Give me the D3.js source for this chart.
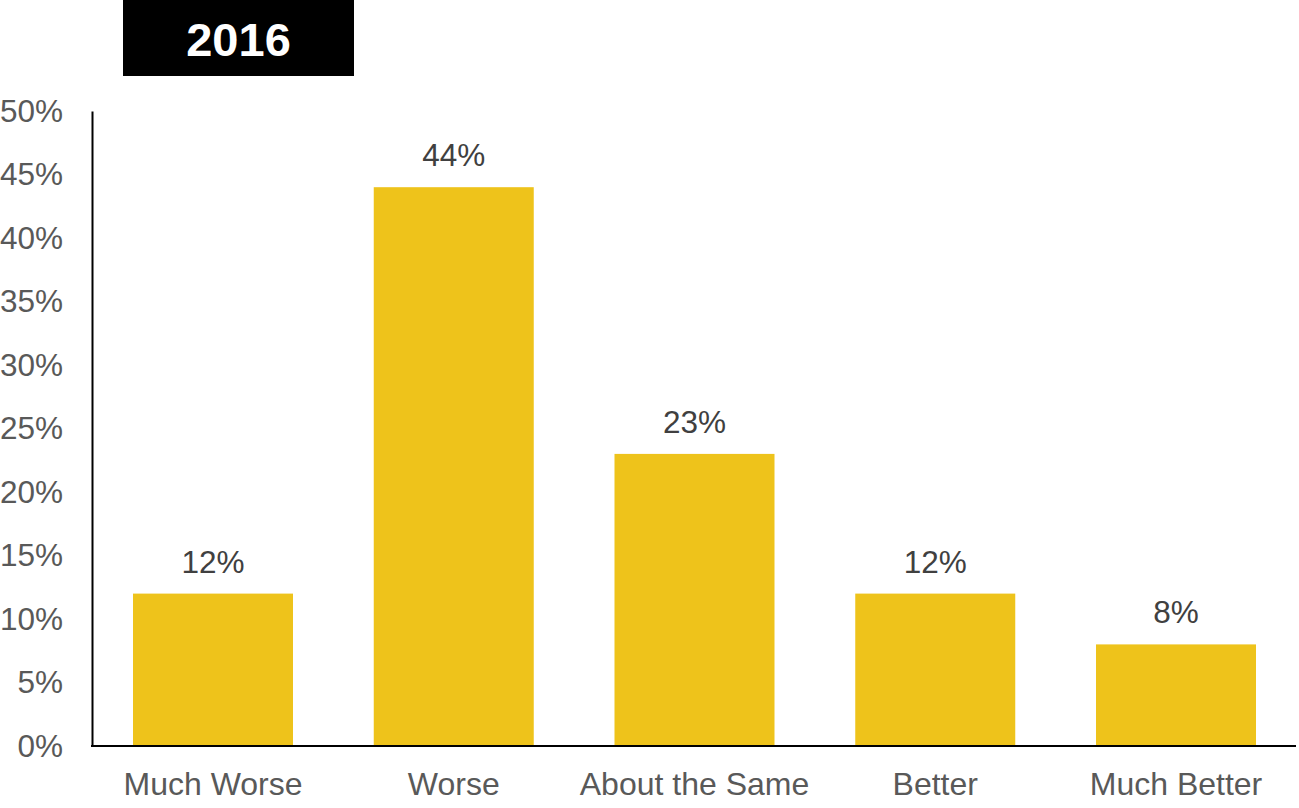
<!DOCTYPE html>
<html>
<head>
<meta charset="utf-8">
<script src="https://cdn.jsdelivr.net/npm/d3@7"></script>
<style>
  html, body { margin: 0; padding: 0; background: #fff; }
  svg { display: block; }
</style>
</head>
<body>
<svg id="chart" width="1299" height="808"></svg>
<script>
// Survey responses, 2016
const title = "2016";
const categories = ["Much Worse", "Worse", "About the Same", "Better", "Much Better"];
const values = [12, 44, 23, 12, 8];
const yTicks = [0, 5, 10, 15, 20, 25, 30, 35, 40, 45, 50];

const svg = d3.select("#chart");
const font = "'Liberation Sans', Arial, sans-serif";

// Each band is 240.75px wide, bars take 160px of it
const step = 240.75, barW = 160;
const x = d3.scaleBand()
  .domain(categories)
  .range([92.625, 92.625 + step * categories.length])
  .paddingInner((step - barW) / step)
  .paddingOuter((step - barW) / 2 / step);

const y = d3.scaleLinear()
  .domain([0, 50])
  .range([746, 111]);

// Title badge
const badge = svg.append("g");
badge.append("rect")
  .attr("x", 123).attr("y", 0)
  .attr("width", 231).attr("height", 76)
  .attr("fill", "#000");
badge.append("text")
  .attr("x", 238.5).attr("y", 56)
  .attr("text-anchor", "middle")
  .attr("font-family", font)
  .attr("font-weight", "bold")
  .attr("font-size", 47)
  .attr("fill", "#fff")
  .text(title);

// Bars
svg.append("g").selectAll("rect")
  .data(values)
  .join("rect")
  .attr("x", (d, i) => x(categories[i]))
  .attr("y", d => y(d))
  .attr("width", x.bandwidth())
  .attr("height", d => y(0) - y(d))
  .attr("fill", "#EEC31B");

// Value labels
svg.append("g").selectAll("text")
  .data(values)
  .join("text")
  .attr("x", (d, i) => x(categories[i]) + x.bandwidth() / 2)
  .attr("y", d => y(d) - 21)
  .attr("text-anchor", "middle")
  .attr("font-family", font)
  .attr("font-size", 31.5)
  .attr("fill", "#404040")
  .text(d => d + "%");

// Y axis
const yAxis = svg.append("g")
  .attr("transform", "translate(92,0)")
  .call(d3.axisLeft(y).tickValues(yTicks).tickSize(0).tickPadding(29).tickFormat(d => d + "%"));
yAxis.select(".domain").attr("stroke", "#000").attr("stroke-width", 2);
yAxis.selectAll("text")
  .attr("font-family", font)
  .attr("font-size", 31.5)
  .attr("fill", "#595959")
  .attr("dy", "0.33em");

// X axis
const xAxis = svg.append("g")
  .attr("transform", "translate(0,746)")
  .call(d3.axisBottom(x).tickSize(0).tickPadding(26));
xAxis.select(".domain")
  .attr("d", "M91,0H1296")
  .attr("stroke", "#000").attr("stroke-width", 2);
xAxis.selectAll("text")
  .attr("font-family", font)
  .attr("font-size", 32)
  .attr("fill", "#595959")
  .attr("dy", "0.71em");
</script>
</body>
</html>
